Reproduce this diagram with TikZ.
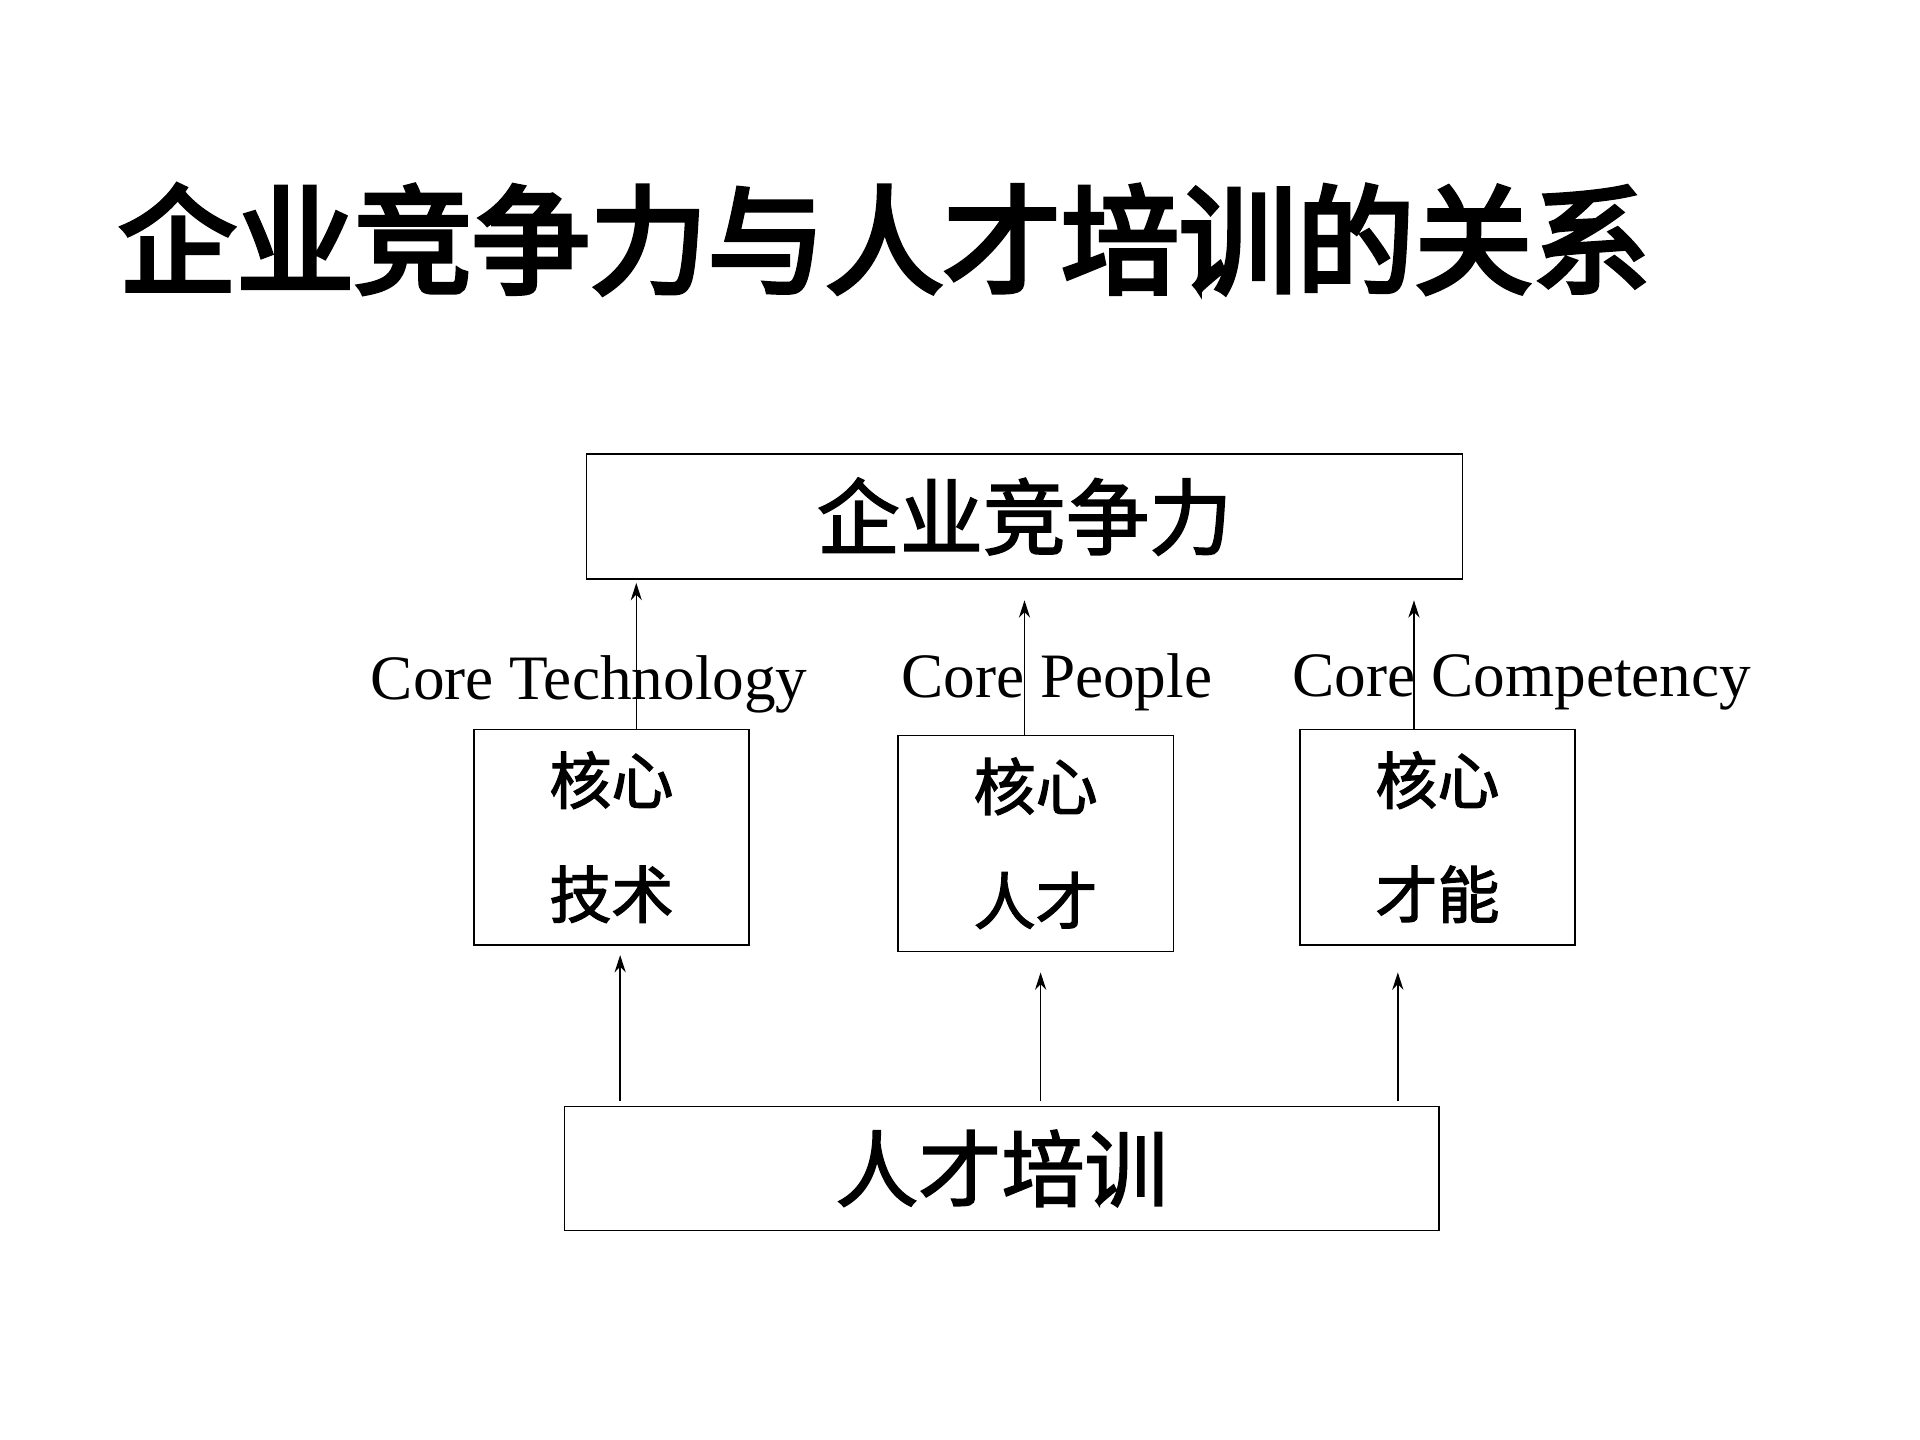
\documentclass[tikz,border=0pt]{standalone}
\usepackage{fontspec}
\setmainfont{Liberation Serif}
\newfontfamily\cjk{Noto Sans CJK SC}[FakeBold=2]
\newfontfamily\cjkb{Noto Sans CJK SC}[FakeBold=4]
\usetikzlibrary{arrows.meta}
\begin{document}
\begin{tikzpicture}[x=1pt,y=-1pt,
  box/.style={draw,line width=1.2pt,inner sep=0pt},
  arr/.style={-{Stealth[length=14pt,width=9pt]},line width=1.1pt},
  lab/.style={font=\fontsize{51}{56}\selectfont}]
\useasboundingbox (0,0) rectangle (1548,1161);
\node[anchor=west,font=\cjkb\fontsize{95}{100}\selectfont] (title) at (92,193) {企业竞争力与人才培训的关系};
\node[box,minimum width=706pt,minimum height=101pt,font=\cjk\fontsize{67}{72}\selectfont] (top) at (826,416.5) {企业竞争力};
\node[box,minimum width=705pt,minimum height=100pt,font=\cjk\fontsize{67}{72}\selectfont] (bot) at (807.5,942) {人才培训};
\node[box,minimum width=222pt,minimum height=174pt] (b1) at (493,675) {};
\node[box,minimum width=222pt,minimum height=174pt] (b2) at (835,680) {};
\node[box,minimum width=222pt,minimum height=174pt] (b3) at (1159,675) {};
\foreach \b/\s/\t in {b1/核心/技术,b2/核心/人才,b3/核心/才能}{
  \node[font=\cjk\fontsize{50}{54}\selectfont] (\b s) at ([yshift=46pt]\b.center) {\s};
  \node[font=\cjk\fontsize{50}{54}\selectfont] (\b t) at ([yshift=-46pt]\b.center) {\t};
}
\node[lab] (l1) at (475,552) {Core Technology};
\node[lab] (l2) at (852,550) {Core People};
\node[lab] (l3) at (1227,550) {Core Competency};
\coordinate (u1) at (513,470); \coordinate (u2) at (826,484); \coordinate (u3) at (1140,484);
\coordinate (d1) at (500,770); \coordinate (d2) at (839,784); \coordinate (d3) at (1127,784);
\coordinate (s1) at (500,888); \coordinate (s2) at (839,888); \coordinate (s3) at (1127,888);
\draw[arr] (b1.north -| u1) -- (u1);
\draw[arr] (b2.north -| u2) -- (u2);
\draw[arr] (b3.north -| u3) -- (u3);
\draw[arr] (s1) -- (d1);
\draw[arr] (s2) -- (d2);
\draw[arr] (s3) -- (d3);
\end{tikzpicture}
\end{document}
